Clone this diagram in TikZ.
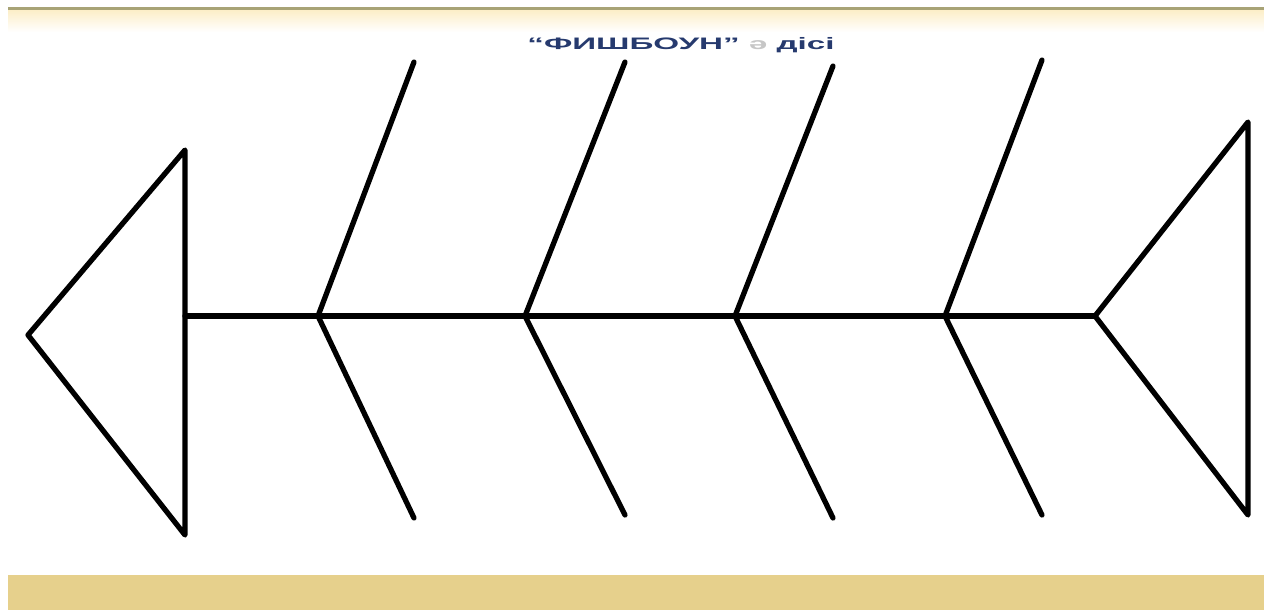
\documentclass[tikz,border=0pt]{standalone}
\usepackage{fontspec}
\setmainfont{Liberation Sans}
\usetikzlibrary{calc}
\definecolor{titleblue}{RGB}{38,58,110}
\definecolor{bandtan}{RGB}{230,208,140}
\definecolor{bandcream}{RGB}{252,238,200}
\definecolor{bandline}{RGB}{168,163,118}
\tikzstyle{bone} = [line width=3pt, line cap=round, line join=round]

\begin{document}
\begin{tikzpicture}[x=0.02cm, y=-0.02cm]
  \useasboundingbox (0,0) rectangle (1264,610);
  % slide bands
  \fill[white] (0,0) rectangle (1264,610);
  \fill[bandline] (8,7) rectangle (1264,10);
  \fill[top color=bandcream, bottom color=white] (8,10) rectangle (1264,32);
  \fill[bandtan] (8,575) rectangle (1264,610);

  \node[font=\bfseries\small, text=titleblue] (title) at (681,45)
    {\scalebox{2.1}[1.05]{“ФИШБОУН” \textcolor{gray!45}{ә} дісі}};

  % head and tail
  \coordinate (head) at (28,335);
  \coordinate (headtop) at (185,150);
  \coordinate (headbot) at (185,535);
  \coordinate (neck) at (185,316);
  \coordinate (tail) at (1095,316);
  \coordinate (tailtop) at (1248,122);
  \coordinate (tailbot) at (1248,515);
  \draw[bone] (head) -- (headtop) -- (headbot) -- cycle;
  \draw[bone] (tail) -- (tailtop) -- (tailbot) -- cycle;
  \draw[bone] (neck) -- (tail);

  % ribs
  \foreach \n/\j/\e/\top/\bot in {1/318/414/62/518, 2/525/625/62/515, 3/735/833/66/518, 4/945/1042/60/515}{
    \coordinate (joint\n) at (\j,316);
    \coordinate (up\n) at (\e,\top);
    \coordinate (down\n) at (\e,\bot);
    \draw[bone] (up\n) -- (joint\n) -- (down\n);
  }
\end{tikzpicture}
\end{document}
